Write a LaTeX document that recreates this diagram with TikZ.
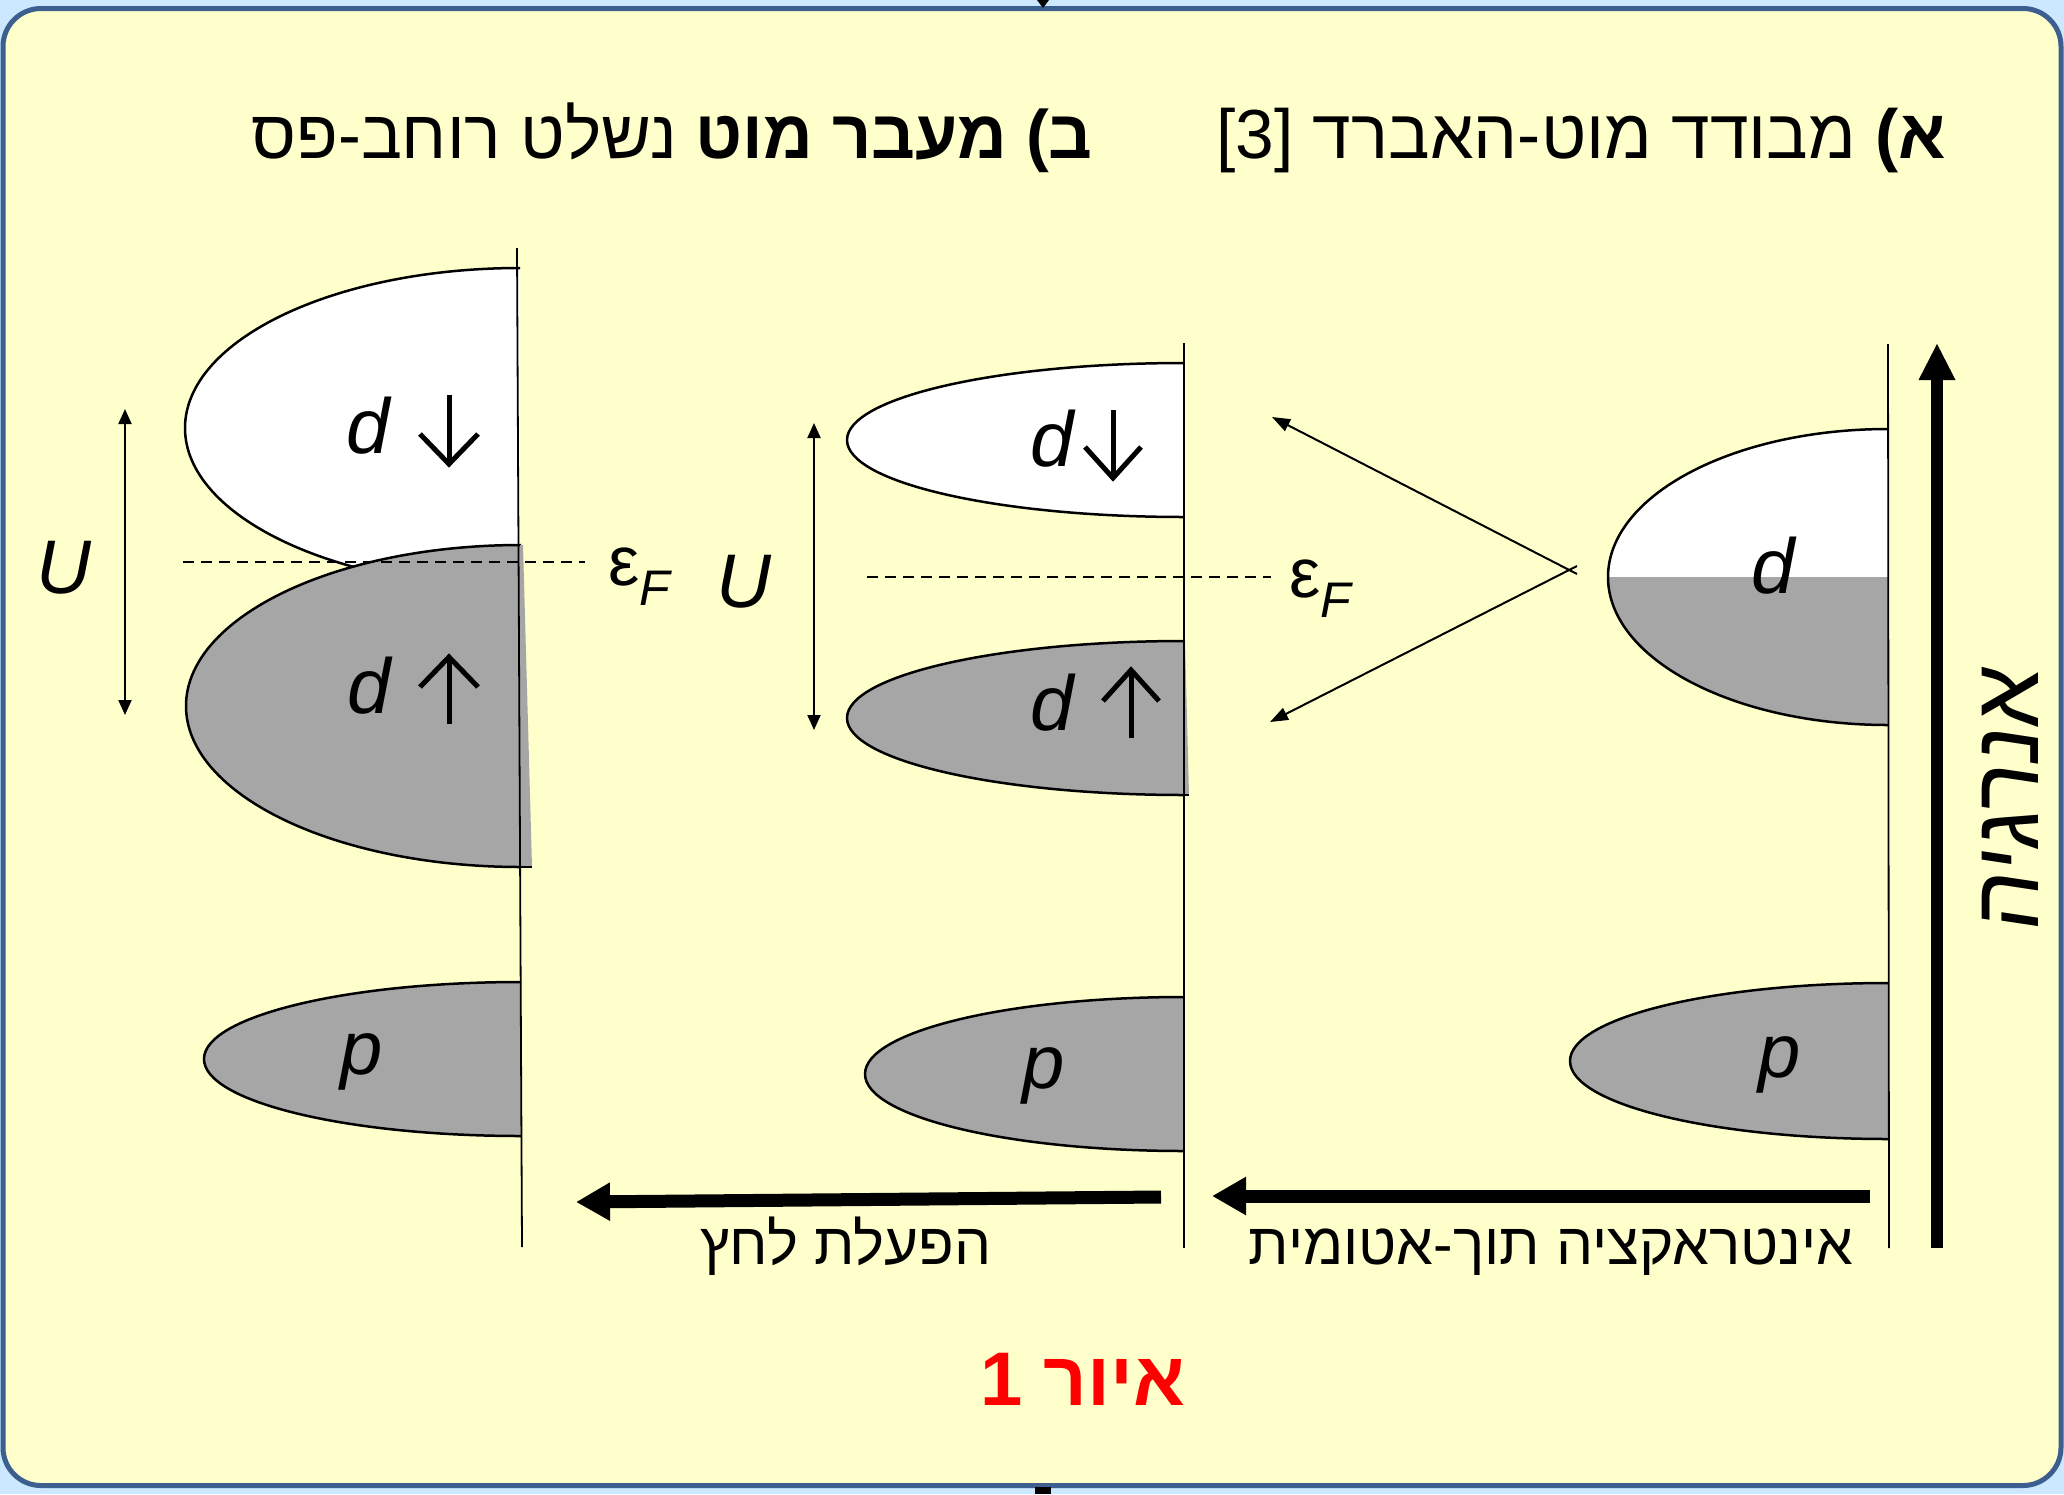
\documentclass[tikz,border=0pt]{standalone}
\usepackage{fontspec}
\setmainfont{Liberation Sans}
\newfontfamily\heb[Script=Hebrew]{Liberation Sans}
\newfontfamily\hebsl[Script=Hebrew,FakeSlant=0.15]{Liberation Sans}
\TeXXeTstate=1
\usetikzlibrary{arrows.meta}
\definecolor{outerbg}{HTML}{CCE8FF}
\definecolor{panelbg}{HTML}{FFFFCC}
\definecolor{panelbd}{HTML}{3C5F8F}
\definecolor{band}{HTML}{A6A6A6}
\definecolor{figred}{HTML}{FF0000}
\newcommand\halfband[5]{%
  \begin{scope}
    \clip (#1-#3-6,#2-#4-6) rectangle (#1,#2+#4+6);
    \filldraw[fill=#5,draw=black,line width=2.5pt] (#1,#2) ellipse [x radius=#3,y radius=#4];
  \end{scope}}
\tikzset{
  lbl/.style={inner sep=0pt,font=\fontsize{78}{78}\selectfont\itshape},
  plbl/.style={inner sep=0pt,font=\fontsize{76}{76}\selectfont\itshape},
  eflbl/.style={inner sep=0pt,anchor=base west,font=\fontsize{70}{70}\selectfont},
  title/.style={inner sep=0pt,anchor=base east,font=\heb\fontsize{69.5}{80}\selectfont},
  hebl/.style={inner sep=0pt,anchor=base,font=\heb\fontsize{58.5}{66}\selectfont},
  axisline/.style={line width=1.8pt},
  spinarrow/.style={line width=5pt},
  fermi/.style={line width=2pt,dash pattern=on 11pt off 7pt},
  uarrow/.style={line width=2pt,{Triangle[length=15pt,width=13pt]}-{Triangle[length=15pt,width=13pt]}},
  varrow/.style={line width=2pt,-{Triangle[length=18pt,width=13pt]}},
  fatarrow/.style={line width=13pt,-{Triangle[length=34pt,width=36pt]}},
  energyarrow/.style={line width=12pt,-{Triangle[length=37pt,width=34pt]}}
}
\begin{document}
\begin{tikzpicture}[x=1pt,y=-1pt]
\useasboundingbox (0,0) rectangle (2064,1494);
\fill[outerbg] (0,0) rectangle (2064,1494);
\filldraw[fill=panelbg,draw=panelbd,line width=5pt,rounded corners=38pt] (3,8.5) rectangle (2061,1485.5);
\fill[black] (1037,0) -- (1049,0) -- (1043,8) -- cycle;
\fill[black] (1035,1487) rectangle (1051,1494);

% ---------- titles
\node[title] (ta) at (1946,158) {\beginR\textbf{א)} מבודד מוט-האברד \beginL[3]\endL\endR};
\node[title,font=\heb\fontsize{68.5}{80}\selectfont] (tb) at (1093,158) {\beginR\textbf{ב) מעבר מוט} נשלט רוחב-פס\endR};

% ---------- left panel (b)
\halfband{520}{428}{335}{160}{white}
\halfband{521}{706}{335}{161}{band}
\fill[band] (520,545) -- (523,545) -- (532,867) -- (520,867) -- cycle;
\draw[line width=2.5pt] (515,867) -- (532,867);
\halfband{521}{1059}{317}{77}{band}

% ---------- middle panel
\halfband{1184}{440}{337}{77}{white}
\halfband{1184}{718}{337}{77}{band}
\fill[band] (1183,641) -- (1185,641) -- (1189,795) -- (1183,795) -- cycle;
\draw[line width=2.5pt] (1180,795) -- (1189,795);
\halfband{1184}{1074}{319}{77}{band}

% ---------- right panel
\begin{scope}
  \clip (1598,420) rectangle (1888,735);
  \begin{scope}
    \clip (1888,577) ellipse [x radius=280,y radius=148];
    \fill[white] (1598,420) rectangle (1888,577);
    \fill[band] (1598,577) rectangle (1888,735);
  \end{scope}
  \draw[line width=2.5pt] (1888,577) ellipse [x radius=280,y radius=148];
\end{scope}
\halfband{1888}{1061}{318}{78}{band}

% ---------- vertical axes
\coordinate (axbT) at (517,248);
\coordinate (axbB) at (522,1247);
\coordinate (axmT) at (1184,343);
\coordinate (axmB) at (1184,1248);
\coordinate (axaT) at (1888,344);
\coordinate (axaB) at (1889,1248);
\draw[axisline] (axbT) -- (axbB);
\draw[axisline] (axmT) -- (axmB);
\draw[axisline] (axaT) -- (axaB);

% ---------- band labels
\node[lbl] (dlu) at (368,426) {d};
\draw[spinarrow] (449,395) -- (449,461);
\draw[spinarrow,line join=miter] (420,434) -- (449,464) -- (478,434);
\node[lbl] (dld) at (369,686) {d};
\draw[spinarrow] (449,724) -- (449,660);
\draw[spinarrow,line join=miter] (420,687) -- (449,657) -- (478,687);
\node[lbl] (dmu) at (1052,439) {d};
\draw[spinarrow] (1113,410) -- (1113,475);
\draw[spinarrow,line join=miter] (1085,447) -- (1113,478) -- (1141,447);
\node[lbl] (dmd) at (1052,703) {d};
\draw[spinarrow] (1131,738) -- (1131,673);
\draw[spinarrow,line join=miter] (1103,701) -- (1131,670) -- (1159,701);
\node[lbl] (dr) at (1773,566) {d};
\node[plbl] (pl) at (362,1062) {p};
\node[plbl] (pm) at (1044,1076) {p};
\node[plbl] (pr) at (1780,1065) {p};

% ---------- U and Fermi level
\node[plbl] (Ul) at (64,568) {U};
\node[plbl] (Um) at (744,582) {U};
\coordinate (ulT) at (125,409);
\coordinate (ulB) at (125,715);
\coordinate (umT) at (814,423);
\coordinate (umB) at (814,730);
\draw[uarrow] (ulT) -- (ulB);
\draw[uarrow] (umT) -- (umB);
\coordinate (flA) at (183,562);
\coordinate (flB) at (585,562);
\coordinate (fmA) at (867,577);
\coordinate (fmB) at (1271,577);
\draw[fermi] (flA) -- (flB);
\draw[fermi] (fmA) -- (fmB);
\node[eflbl] (efl) at (608,585) {ε\raisebox{-20pt}{\fontsize{50}{50}\selectfont\itshape F}};
\node[eflbl] (efm) at (1289,597) {ε\raisebox{-20pt}{\fontsize{50}{50}\selectfont\itshape F}};

% ---------- splitting arrows
\coordinate (vU) at (1577,574);
\coordinate (vD) at (1577,566);
\coordinate (tipU) at (1272,417);
\coordinate (tipD) at (1270,722);
\draw[varrow] (vU) -- (tipU);
\draw[varrow] (vD) -- (tipD);

% ---------- big arrows
\coordinate (enB) at (1937,1248);
\coordinate (enT) at (1937,343);
\draw[energyarrow] (enB) -- (enT);
\node[rotate=90,inner sep=0pt,font=\hebsl\fontsize{94}{94}\selectfont] (energy) at (2010,803) {\beginR אנרגיה\endR};
\coordinate (iaR) at (1870,1196);
\coordinate (iaL) at (1212,1196);
\draw[fatarrow] (iaR) -- (iaL);
\coordinate (prR) at (1161,1197);
\coordinate (prL) at (576,1202);
\draw[fatarrow] (prR) -- (prL);
\node[hebl] (intra) at (1551,1264) {\beginR אינטראקציה תוך-אטומית\endR};
\node[hebl] (press) at (846,1264) {\beginR הפעלת לחץ\endR};

% ---------- caption
\node[inner sep=0pt,anchor=base,text=figred,font=\heb\bfseries\fontsize{76}{90}\selectfont] (fig) at (1083,1405) {\beginR איור 1\endR};
\end{tikzpicture}
\end{document}
